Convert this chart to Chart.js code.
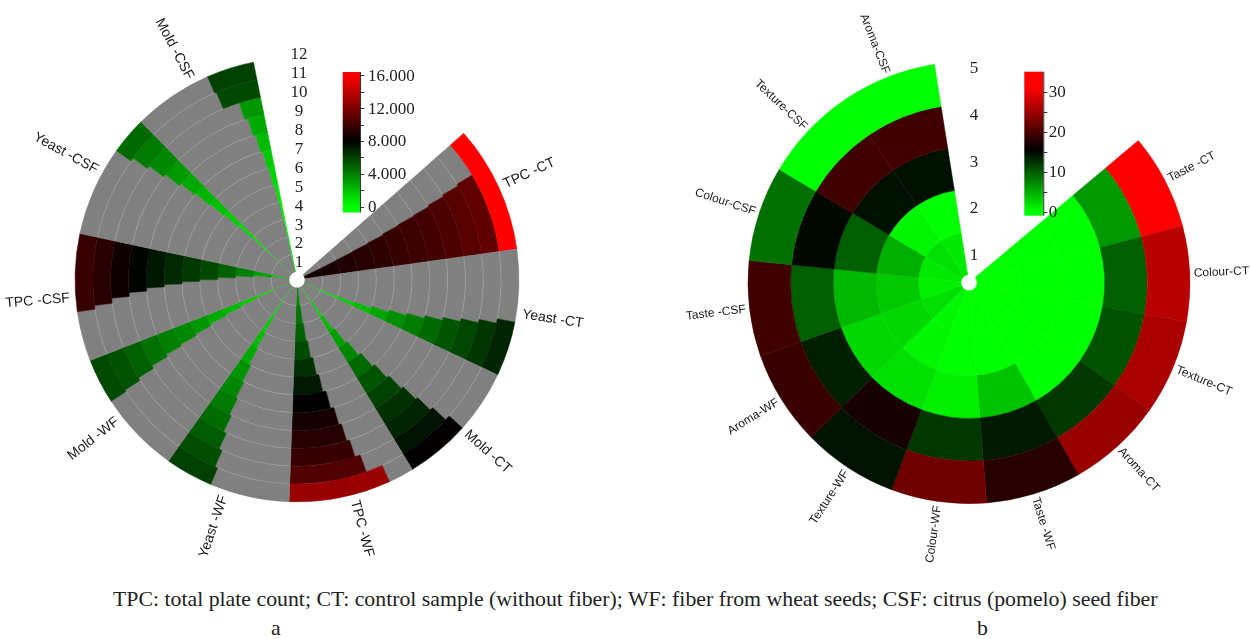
<!DOCTYPE html>
<html>
<head>
<meta charset="utf-8">
<script src="https://cdn.jsdelivr.net/npm/chart.js@4.4.1/dist/chart.umd.min.js"></script>
<style>
    body { margin: 0; width: 1250px; height: 639px; overflow: hidden; background: #fff; position: relative; }
    canvas { position: absolute; top: 0; }
    #chartA { left: 0; }
    #chartB { left: 669px; }
    .txt { position: absolute; font-family: "Liberation Serif", "Times New Roman", serif; font-size: 21.8px; line-height: 22px; color: #222; white-space: nowrap; }
    #caption { left: 113px; top: 588px; }
    #tagA { left: 271px; top: 617px; }
    #tagB { left: 977px; top: 617px; }
</style>
</head>
<body>
<canvas id="chartA" width="594" height="564"></canvas>
<canvas id="chartB" width="600" height="568"></canvas>
<div class="txt" id="caption">TPC: total plate count; CT: control sample (without fiber); WF: fiber from wheat seeds; CSF: citrus (pomelo) seed fiber</div>
<div class="txt" id="tagA">a</div>
<div class="txt" id="tagB">b</div>
<script>
// ---- chart a: counts per storage day (ring 1 = day 1) ----
const microbes = ['TPC -CT', 'Yeast -CT', 'Mold -CT', 'TPC -WF', 'Yeast -WF', 'Mold -WF', 'TPC -CSF', 'Yeast -CSF', 'Mold -CSF'];
const days = [1, 2, 3, 4, 5, 6, 7, 8, 9, 10, 11, 12];
const tpcCT    = [8600, 8800, 9000, 9200, 9400, 9700, 9900, 10100, 10400, 10700, 11000, 16000];
const yeastCT  = [500, 1000, 1500, 2100, 2800, 3500, 4100, 4700, 5300, 5800, 6300, 6900];
const moldCT   = [700, 1500, 2200, 3000, 3800, 4700, 5400, 6000, 6500, 6900, 7400, 8100];
const tpcWF    = [3800, 4400, 5000, 5700, 6500, 7200, 8000, 8700, 9200, 9700, 10500, 12800];
const yeastWF  = [500, 1000, 1600, 2200, 2700, 3400, 3800, 4200, 4600, 5100, 5600, 6000];
const moldWF   = [450, 1100, 1700, 2200, 2700, 3250, 3700, 4050, 4500, 5000, 5450, 5700];
const tpcCSF   = [2000, 3000, 4000, 5000, 5750, 6250, 6750, 7250, 7850, 8500, 9250, 9750];
const yeastCSF = [250, 450, 850, 1200, 1600, 2000, 2350, 2700, 3200, 3700, 4200, 4700];
const moldCSF  = [150, 250, 450, 700, 1000, 1350, 1700, 2200, 2700, 3250, 5750, 6000];
const countTicks = [0, 4000, 8000, 12000, 16000];
const countTickLabels = ['0', '4.000', '8.000', '12.000', '16.000'];
const countMinor = [2000, 6000, 10000, 14000];

// ---- chart b: sensory scores per panel ring ----
const attributes = ['Taste -CT', 'Colour-CT', 'Texture-CT', 'Aroma-CT', 'Taste -WF', 'Colour-WF', 'Texture-WF', 'Aroma-WF', 'Taste -CSF', 'Colour-CSF', 'Texture-CSF', 'Aroma-CSF'];
const panels = [1, 2, 3, 4, 5];
const tasteCT    = [0, 0, 0, 6.2, 32];
const colourCT   = [0, 0, 0, 9.7, 26.7];
const textureCT  = [0, 0, 0, 10.6, 25.8];
const aromaCT    = [0, 0, 0, 12.1, 24.8];
const tasteWF    = [0, 0, 3.6, 14, 17.9];
const colourWF   = [0, 0, 0.9, 12.1, 22.3];
const textureWF  = [0.5, 0.5, 1.9, 17, 14.4];
const aromaWF    = [1.9, 2.4, 2.4, 13.6, 18.9];
const tasteCSF   = [0.9, 3.3, 4.3, 9.7, 19.4];
const colourCSF  = [1.3, 4.8, 9.7, 15, 8.7];
const textureCSF = [1.9, 0.6, 14.5, 19.4, 0];
const aromaCSF   = [1.3, 0, 14.5, 19.4, 0];
const scoreTicks = [0, 10, 20, 30];
const scoreTickLabels = ['0', '10', '20', '30'];
const scoreMinor = [5, 15, 25];

const countSeries = [tpcCT, yeastCT, moldCT, tpcWF, yeastWF, moldWF, tpcCSF, yeastCSF, moldCSF];
const scoreSeries = [tasteCT, colourCT, textureCT, aromaCT, tasteWF, colourWF, textureWF, aromaWF, tasteCSF, colourCSF, textureCSF, aromaCSF];

const sectorFull = 16000;   // a count that fills a whole sector of chart a
const GRAY = '#808080';

// green -> black -> red
function makeColour(mid, max) {
    return v => {
        if (v < mid) {
            const g = Math.round(255 * (1 - Math.max(0, v) / mid));
            return `rgb(0,${g},0)`;
        }
        const r = Math.round(255 * Math.min(1, (v - mid) / (max - mid)));
        return `rgb(${r},0,0)`;
    };
}
const countColour = makeColour(8000, 16000);
const scoreColour = makeColour(15.5, 31);

function textPlugin(cfg) {
    return {
        id: 'polarText',
        afterDatasetsDraw(chart) {
            if (!cfg.ringLines) return;
            const ctx = chart.ctx;
            const n = chart.data.datasets.length;
            ctx.save();
            ctx.strokeStyle = 'rgba(190,190,190,0.5)';
            ctx.lineWidth = 0.7;
            for (let d = 0; d < n - 1; d++) {
                const outer = chart.getDatasetMeta(d).data;
                const inner = chart.getDatasetMeta(d + 1).data;
                const r = inner[0].outerRadius;
                for (let i = 0; i < outer.length; i += 2) {
                    const a0 = outer[i].startAngle;
                    const a1 = Math.min(outer[i].endAngle, inner[i].endAngle);
                    if (a1 - a0 > 0.002) {
                        ctx.beginPath();
                        ctx.arc(outer[i].x, outer[i].y, r, a0, a1);
                        ctx.stroke();
                    }
                }
            }
            ctx.restore();
        },
        afterDraw(chart) {
            const ctx = chart.ctx;
            const arcs = chart.getDatasetMeta(0).data;
            const cx = arcs[0].x, cy = arcs[0].y, R = arcs[0].outerRadius;
            const step = cfg.step;
            ctx.save();

            // names along the radius
            ctx.font = cfg.nameFont;
            ctx.fillStyle = '#1a1a1a';
            ctx.textBaseline = 'middle';
            cfg.names.forEach((name, i) => {
                const mid = (arcs[i * step].startAngle + arcs[i * step + step - 1].endAngle) / 2;
                const left = Math.cos(mid) < 0;
                ctx.save();
                ctx.translate(cx + Math.cos(mid) * (R + cfg.nameGap), cy + Math.sin(mid) * (R + cfg.nameGap));
                ctx.rotate(left ? mid + Math.PI : mid);
                ctx.textAlign = left ? 'right' : 'left';
                ctx.fillText(name, 0, 0);
                ctx.restore();
            });

            // ring numbers in the gap
            ctx.font = '17px "Liberation Serif", "Times New Roman", serif';
            ctx.fillStyle = '#222';
            ctx.textAlign = 'center';
            cfg.rings.forEach((n, k) => {
                ctx.fillText(String(n), cx + cfg.numDx, cy - (cfg.numR0 + k * cfg.numStep));
            });

            // colour bar
            const b = cfg.bar;
            const yOf = v => b.bottom - (v - b.vmin) / (b.vmax - b.vmin) * (b.bottom - b.top);
            const grad = ctx.createLinearGradient(0, b.bottom, 0, b.top);
            for (let s = 0; s <= 60; s++) {
                const v = b.vmin + (b.vmax - b.vmin) * s / 60;
                grad.addColorStop(s / 60, cfg.colour(v));
            }
            ctx.fillStyle = grad;
            ctx.fillRect(b.x, b.top, b.w, b.bottom - b.top);
            const xr = b.x + b.w;
            ctx.strokeStyle = '#333';
            ctx.lineWidth = 1;
            ctx.beginPath();
            ctx.moveTo(xr + 0.5, b.top);
            ctx.lineTo(xr + 0.5, b.bottom);
            b.ticks.concat(b.minor).forEach(v => {
                const y = Math.round(yOf(v)) + 0.5;
                ctx.moveTo(xr, y);
                ctx.lineTo(xr + 4, y);
            });
            ctx.stroke();
            ctx.fillStyle = '#222';
            ctx.textAlign = 'left';
            b.ticks.forEach((v, i) => {
                ctx.fillText(b.labels[i], xr + b.labelGap, yOf(v) + 1);
            });
            ctx.restore();
        }
    };
}

// chart a: each ring is a dataset; each sector = grey remainder + coloured share
const countDatasets = days.map((d, k) => {
    const data = [], bg = [], bc = [], bw = [];
    countSeries.forEach(s => {
        const v = Math.min(s[k], sectorFull);
        data.push(sectorFull - v, v);
        bg.push(GRAY, countColour(v));
        bc.push(GRAY, countColour(v));
        bw.push(sectorFull - v > 0 ? 0.5 : 0, v > 0 ? 0.5 : 0);
    });
    return { label: 'Day ' + d, data, backgroundColor: bg, borderColor: bc, borderWidth: bw };
}).reverse();

new Chart(document.getElementById('chartA'), {
    type: 'doughnut',
    data: {
        labels: microbes.flatMap(m => [m + ' rest', m]),
        datasets: countDatasets
    },
    options: {
        responsive: false,
        animation: false,
        events: [],
        rotation: 48.7,
        circumference: 300,
        radius: 222,
        cutout: (8 / 222 * 100) + '%',
        layout: { padding: 0 },
        plugins: { legend: { display: false }, tooltip: { enabled: false } }
    },
    plugins: [textPlugin({
        names: microbes, step: 2, nameFont: '14px "Liberation Sans", Arial, sans-serif', nameGap: 6,
        rings: days, numDx: 2, numR0: 17, numStep: 18.9, ringLines: true,
        colour: countColour,
        bar: { x: 342.7, w: 17.3, top: 72, bottom: 212.5, vmin: -700, vmax: 16400,
               ticks: countTicks, labels: countTickLabels, minor: countMinor, labelGap: 8 }
    })]
});

// chart b: plain polar heat map, equal sectors
const scoreDatasets = panels.map((p, k) => {
    const cols = scoreSeries.map(s => scoreColour(s[k]));
    return { label: 'Ring ' + p, data: scoreSeries.map(() => 1), backgroundColor: cols, borderColor: cols, borderWidth: 0.5 };
}).reverse();

new Chart(document.getElementById('chartB'), {
    type: 'doughnut',
    data: {
        labels: attributes,
        datasets: scoreDatasets
    },
    options: {
        responsive: false,
        animation: false,
        events: [],
        rotation: 50,
        circumference: 301,
        radius: 221,
        cutout: (8 / 221 * 100) + '%',
        layout: { padding: 0 },
        plugins: { legend: { display: false }, tooltip: { enabled: false } }
    },
    plugins: [textPlugin({
        names: attributes, step: 1, nameFont: '12px "Liberation Sans", Arial, sans-serif', nameGap: 4,
        rings: panels, numDx: 5, numR0: 27, numStep: 46.8, ringLines: false,
        colour: scoreColour,
        bar: { x: 355.3, w: 19, top: 71.7, bottom: 215.7, vmin: -1, vmax: 35,
               ticks: scoreTicks, labels: scoreTickLabels, minor: scoreMinor, labelGap: 5.5 }
    })]
});
</script>
</body>
</html>
